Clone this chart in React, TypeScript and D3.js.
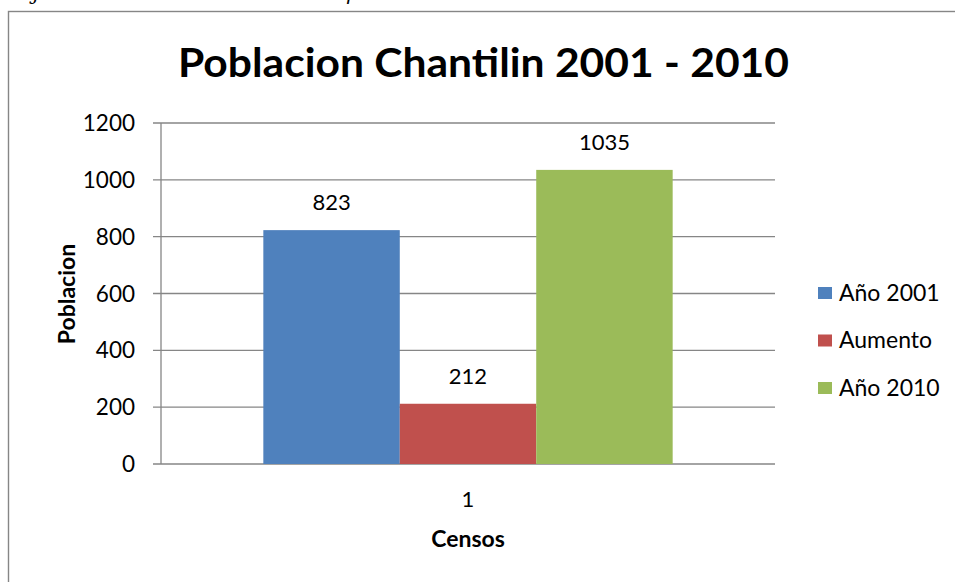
import * as d3 from "d3";

const categories = ["1"];
const seriesNames = ["Año 2001", "Aumento", "Año 2010"];
const seriesValues = [823, 212, 1035];
const seriesColors = ["#4F81BD", "#C0504D", "#9BBB59"];
const yTicks = [0, 200, 400, 600, 800, 1000, 1200];

const W = 955;
const H = 582;
const font = "Lato, 'Open Sans', sans-serif";
const gridColor = "#868686";

export default function App() {
  const plot = { left: 161, right: 775, top: 123, bottom: 464 };

  const y = d3.scaleLinear().domain([0, 1200]).range([plot.bottom, plot.top]);
  const x = d3
    .scaleBand()
    .domain(categories)
    .range([plot.left, plot.right])
    .paddingInner(0)
    .paddingOuter(0.25);
  const xs = d3
    .scaleBand()
    .domain(seriesNames)
    .range([0, x.bandwidth()])
    .padding(0);

  return (
    <svg
      width={W}
      height={H}
      style={{ position: "absolute", left: 0, top: 0, background: "#fff" }}
    >
      {/* cut-off caption descenders above the chart */}
      <text x={33} y={0} fontFamily="'DejaVu Serif', serif" fontStyle="italic" fontSize={20}>
        j
      </text>
      <text x={346} y={0} fontFamily="'DejaVu Serif', serif" fontStyle="italic" fontSize={20}>
        p
      </text>

      {/* chart frame */}
      <rect
        x={8.5}
        y={11.5}
        width={1000}
        height={1000}
        fill="#fff"
        stroke={gridColor}
        strokeWidth={1.4}
      />

      <text
        x={483.5}
        y={77}
        textAnchor="middle"
        fontFamily={font}
        fontWeight="bold"
        fontSize={40}
        textLength={611}
        lengthAdjust="spacingAndGlyphs"
      >
        Poblacion Chantilin 2001 - 2010
      </text>

      {/* gridlines and y ticks */}
      {yTicks.map((t) => (
        <g key={t}>
          <line
            x1={plot.left - 8}
            x2={plot.right}
            y1={y(t)}
            y2={y(t)}
            stroke={gridColor}
            strokeWidth={t === 0 ? 1.6 : 1.3}
          />
          <text
            x={135}
            y={y(t) + 8}
            textAnchor="end"
            fontFamily={font}
            fontSize={22.5}
            fill="#000"
          >
            {t}
          </text>
        </g>
      ))}
      <line
        x1={plot.left}
        x2={plot.left}
        y1={plot.top}
        y2={plot.bottom}
        stroke={gridColor}
        strokeWidth={1.3}
      />

      {/* bars */}
      {categories.map((c) => (
        <g key={c} transform={`translate(${x(c)},0)`}>
          {seriesNames.map((s, i) => (
            <g key={s}>
              <rect
                x={xs(s)}
                y={y(seriesValues[i])}
                width={xs.bandwidth()}
                height={plot.bottom - y(seriesValues[i])}
                fill={seriesColors[i]}
              />
              <text
                x={xs(s)! + xs.bandwidth() / 2}
                y={y(seriesValues[i]) - 20}
                textAnchor="middle"
                fontFamily={font}
                fontSize={22}
              >
                {seriesValues[i]}
              </text>
            </g>
          ))}
          <text
            x={x.bandwidth() / 2}
            y={507}
            textAnchor="middle"
            fontFamily={font}
            fontSize={22}
          >
            {c}
          </text>
        </g>
      ))}

      {/* axis titles */}
      <text
        x={468}
        y={547}
        textAnchor="middle"
        fontFamily={font}
        fontWeight="bold"
        fontSize={23}
      >
        Censos
      </text>
      <text
        transform="translate(75,294) rotate(-90)"
        textAnchor="middle"
        fontFamily={font}
        fontWeight="bold"
        fontSize={23}
      >
        Poblacion
      </text>

      {/* legend */}
      {seriesNames.map((s, i) => (
        <g key={s} transform={`translate(818,${293 + i * 47.5})`}>
          <rect x={0} y={-6} width={14} height={12} fill={seriesColors[i]} />
          <text x={21} y={7.5} fontFamily={font} fontSize={23}>
            {s}
          </text>
        </g>
      ))}
    </svg>
  );
}
